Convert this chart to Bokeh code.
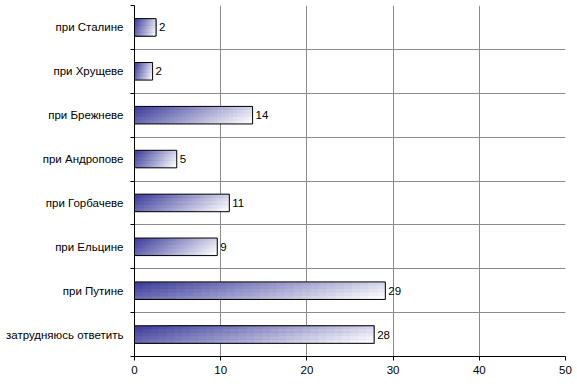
from bokeh.plotting import figure
from bokeh.models import Range1d, FixedTicker, ColumnDataSource
from bokeh.core.properties import value
from bokeh.embed import file_html
from bokeh.resources import INLINE

categories = ["при Сталине", "при Хрущеве", "при Брежневе", "при Андропове",
              "при Горбачеве", "при Ельцине", "при Путине", "затрудняюсь ответить"]
values = [2.5, 2.1, 13.7, 4.9, 11.0, 9.6, 29.1, 27.8]
value_labels = ["2", "2", "14", "5", "11", "9", "29", "28"]
x_ticks = [0, 10, 20, 30, 40, 50]

FONT = "Liberation Sans"
FS = "11.5px"
BAR_H = 0.4
DARK = (58, 58, 154)
LIGHT = (250, 250, 253)

n = len(categories)
pos = list(range(n))

p = figure(width=577, height=387, output_backend="svg", toolbar_location=None,
           x_range=Range1d(0, 50), y_range=Range1d(n - 0.5, -0.5),
           min_border_left=134, min_border_right=12, min_border_top=5, min_border_bottom=31)
p.outline_line_color = None
p.background_fill_color = "white"

# gradient pieces derived from values (each piece overlaps toward bar's end)
NX, NY = 30, 5
left, right, top, bottom, colors = [], [], [], [], []
for i, v in enumerate(values):
    y0 = pos[i] - BAR_H / 2
    for b in range(NY):
        for a in range(NX):
            u = (a + 0.5) / NX
            w = (b + 0.5) / NY
            t = min(1.0, 0.8 * u + 0.25 * w)
            c = tuple(int(DARK[k] + (LIGHT[k] - DARK[k]) * t) for k in range(3))
            left.append(v * a / NX)
            right.append(v)
            top.append(y0 + BAR_H * b / NY)
            bottom.append(y0 + BAR_H)
            colors.append("#%02x%02x%02x" % c)
p.quad(left=left, right=right, top=top, bottom=bottom, fill_color=colors, line_color=None)

src = ColumnDataSource(dict(y=pos, v=values, lab=value_labels))
p.hbar(y="y", right="v", left=0, height=BAR_H, source=src, fill_color=None,
       line_color="black", line_width=1)
p.text(x="v", y="y", text="lab", source=src, x_offset=3, text_align="left",
       text_baseline="middle", text_font=value(FONT), text_font_size=FS,
       text_color="black")

# axes
p.xaxis.ticker = FixedTicker(ticks=x_ticks)
p.xaxis.axis_line_color = "black"
p.xaxis.major_tick_line_color = "black"
p.xaxis.major_tick_out = 4
p.xaxis.major_tick_in = 0
p.xaxis.minor_tick_line_color = None
p.xaxis.major_label_standoff = 5
p.xaxis.major_label_text_font = FONT
p.xaxis.major_label_text_font_size = FS
p.xaxis.major_label_text_color = "black"

boundaries = [i - 0.5 for i in range(n + 1)]
p.yaxis.ticker = FixedTicker(ticks=pos, minor_ticks=boundaries)
p.yaxis.major_label_overrides = {i: c for i, c in zip(pos, categories)}
p.yaxis.axis_line_color = "black"
p.yaxis.major_tick_line_color = None
p.yaxis.major_tick_out = 0
p.yaxis.major_tick_in = 0
p.yaxis.minor_tick_line_color = "black"
p.yaxis.minor_tick_out = 4
p.yaxis.minor_tick_in = 0
p.yaxis.major_label_standoff = 7
p.yaxis.major_label_text_font = FONT
p.yaxis.major_label_text_font_size = FS
p.yaxis.major_label_text_color = "black"

p.xgrid.grid_line_color = "#8c8c8c"
p.ygrid.grid_line_color = None
p.ygrid.minor_grid_line_color = "#8c8c8c"

open("out.html", "w").write(file_html(p, INLINE))
